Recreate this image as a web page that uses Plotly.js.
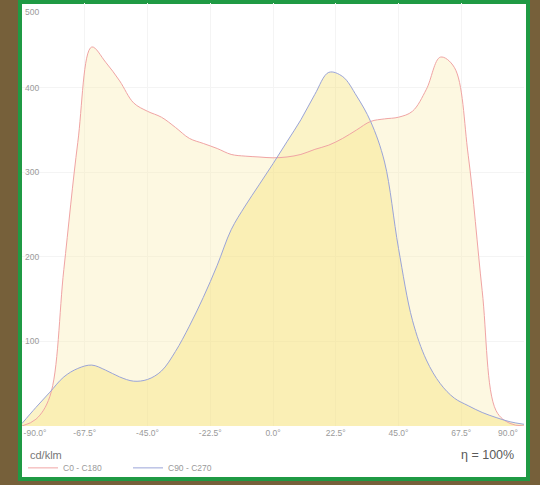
<!DOCTYPE html>
<html><head><meta charset="utf-8">
<script src="https://cdn.plot.ly/plotly-3.0.1.min.js"></script>
<style>
html,body{margin:0;padding:0;background:#76603a;width:540px;height:485px;overflow:hidden}
#frame{position:absolute;left:18px;top:0;width:504px;height:473px;border:4px solid #1f9a44;background:#fff}
#chart{position:absolute;left:0;top:0;width:540px;height:485px}
</style></head><body>
<div id="frame"></div><div id="chart"></div>
<script>
// Angles (degrees)
var angles = [-90,-85,-80,-75,-70,-65,-60,-55,-50,-45,-40,-35,-30,-25,-20,-15,-10,-5,0,5,10,15,20,25,30,35,40,45,50,55,60,65,70,75,80,85,90];
// C0 - C180 (cd/klm)
var c0c180 = [0,8,35,185,335,448,430,408,382,372,365,353,340,334,328,321,319,318,317,318,321,327,332,340,350,360,363,365,372,398,436,424,320,160,18,3,0];
// C90 - C270 (cd/klm)
var c90c270 = [3,22,40,58,68,72,66,58,53,55,65,88,118,152,190,232,260,285,310,336,362,392,418,413,390,360,312,210,125,78,50,33,24,16,10,5,2];
// Tick labels
var xTickVals = [-67.5,-45,-22.5,0,22.5,45,67.5];
var xTickText = ['-67.5°','-45.0°','-22.5°','0.0°','22.5°','45.0°','67.5°'];
var xFirstVal = [-90], xFirstText = ['-90.0°'];
var xLastVal = [90], xLastText = ['90.0°'];
var yTickVals = [100,200,300,400];
var yTickText = ['100','200','300','400'];
var yTopVal = [500], yTopText = ['500'];
var seriesNames = ['C0 - C180','C90 - C270'];

var traces = [
  {x: angles, y: c0c180, mode:'lines', fill:'tozeroy', fillcolor:'rgba(250,235,170,0.35)',
   line:{width:0, shape:'spline'}, showlegend:false, hoverinfo:'skip'},
  {x: angles, y: c90c270, mode:'lines', fill:'tozeroy', fillcolor:'rgba(246,224,115,0.40)',
   line:{width:0, shape:'spline'}, showlegend:false, hoverinfo:'skip'},
  {x: angles, y: c0c180, mode:'lines', name: seriesNames[0], xaxis:'x2', yaxis:'y',
   line:{color:'#f0a4a4', width:1, shape:'spline'}},
  {x: angles, y: c90c270, mode:'lines', name: seriesNames[1], xaxis:'x3', yaxis:'y2',
   line:{color:'#9aa4d8', width:1, shape:'spline'}}
];

var tf = {size:8.5, color:'#9a9a9a'};
var baseX = {range:[-90,90], zeroline:false, showline:false, ticks:'', tickfont:tf, fixedrange:true, ticklabeloverflow:'allow'};
var baseY = {range:[0,500], zeroline:false, showline:false, ticks:'', tickfont:tf, fixedrange:true, ticklabeloverflow:'allow', ticklabelposition:'inside'};

var layout = {
  width:540, height:485,
  margin:{l:22, r:16, t:3, b:57},
  paper_bgcolor:'rgba(0,0,0,0)', plot_bgcolor:'rgba(0,0,0,0)',
  font:{family:'Liberation Sans, Arial, sans-serif', color:'#999', size:8},
  xaxis:Object.assign({}, baseX, {tickvals:xTickVals, ticktext:xTickText, showgrid:true, gridcolor:'#f4f4f4'}),
  xaxis2:Object.assign({}, baseX, {overlaying:'x', anchor:'y', side:'bottom', tickvals:xFirstVal, ticktext:xFirstText, showgrid:false, ticklabelshift:13}),
  xaxis3:Object.assign({}, baseX, {overlaying:'x', anchor:'y', side:'bottom', tickvals:xLastVal, ticktext:xLastText, showgrid:false, ticklabelshift:-16}),
  yaxis:Object.assign({}, baseY, {tickvals:yTickVals, ticktext:yTickText, showgrid:true, gridcolor:'#f4f4f4'}),
  yaxis2:Object.assign({}, baseY, {overlaying:'y', anchor:'x', side:'left', tickvals:yTopVal, ticktext:yTopText, showgrid:false, ticklabelshift:9}),
  showlegend:true,
  legend:{orientation:'h', x:0.002, xanchor:'left', y:-0.099, yanchor:'middle',
          font:{size:8.5, color:'#9a9a9a'}, entrywidth:60, entrywidthmode:'pixels', bgcolor:'rgba(0,0,0,0)'},
  annotations:[
    {xref:'paper', yref:'paper', x:0.012, y:-0.068, xanchor:'left', yanchor:'middle', showarrow:false,
     text:'cd/klm', font:{size:11, color:'#777'}},
    {xref:'paper', yref:'paper', x:0.984, y:-0.068, xanchor:'right', yanchor:'middle', showarrow:false,
     text:'η = 100%', font:{size:12.5, color:'#5a5a5a'}}
  ]
};
Plotly.newPlot('chart', traces, layout, {displayModeBar:false, staticPlot:true});
</script></body></html>
